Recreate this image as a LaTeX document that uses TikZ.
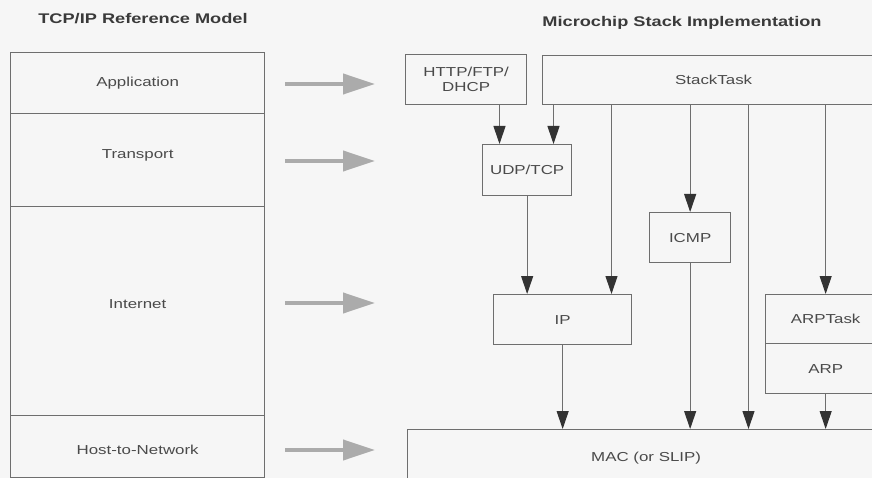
\documentclass[tikz,border=0pt]{standalone}
\usepackage{fontspec}
\setmainfont{Liberation Sans}[FakeStretch=1.3]
\usetikzlibrary{arrows.meta}
\definecolor{bg}{HTML}{F6F6F6}
\definecolor{ln}{HTML}{6E6E6E}
\definecolor{tx}{HTML}{4A4A4A}
\definecolor{hd}{HTML}{333333}
\definecolor{big}{HTML}{ABABAB}
\definecolor{ttl}{HTML}{3A3A3A}
\begin{document}
\begin{tikzpicture}[x=1pt,y=-1pt,
  box/.style={draw=ln, line width=1.3pt, rectangle, inner sep=0pt, anchor=north west,
    text=tx, font=\fontsize{13}{15}\selectfont, align=center},
  ttlnode/.style={text=ttl, font=\fontsize{14}{16}\selectfont\bfseries, inner sep=0pt},
  arr/.style={draw=ln, line width=1.1pt, -{Triangle[length=18pt,width=12pt,color=hd]}},
  bigarr/.style={draw=big, line width=4pt, -{Triangle[length=32pt,width=20pt,color=big]}}
]
\clip (0,0) rectangle (872,478);
\fill[bg] (0,0) rectangle (872,478);

% titles
\node[ttlnode] (t1) at (143,19) {TCP/IP Reference Model};
\node[ttlnode] (t2) at (682,23) {Microchip Stack Implementation};

% left column
\node[box, minimum width=254pt, minimum height=61pt] (app) at (10,52) {Application};
\node[box, minimum width=254pt, minimum height=93pt, text depth=13pt] (trans) at (10,113) {Transport};
\node[box, minimum width=254pt, minimum height=209pt, text depth=15pt] (inet) at (10,206) {Internet};
\node[box, minimum width=254pt, minimum height=62pt, text height=15pt] (host) at (10,415) {Host-to-Network};

% gray arrows
\coordinate (g1s) at (285,84);  \coordinate (g1e) at (375,84);
\coordinate (g2s) at (285,161); \coordinate (g2e) at (375,161);
\coordinate (g3s) at (285,303); \coordinate (g3e) at (375,303);
\coordinate (g4s) at (285,450); \coordinate (g4e) at (375,450);
\draw[bigarr] (g1s) -- (g1e);
\draw[bigarr] (g2s) -- (g2e);
\draw[bigarr] (g3s) -- (g3e);
\draw[bigarr] (g4s) -- (g4e);

% right column
\node[box, minimum width=121pt, minimum height=50pt] (http) at (405,54) {HTTP/FTP/\\DHCP};
\node[box, minimum width=342pt, minimum height=49pt] (stack) at (542,55) {StackTask};
\node[box, minimum width=89pt, minimum height=51pt] (udp) at (482,144) {UDP/TCP};
\node[box, minimum width=81pt, minimum height=50pt] (icmp) at (649,212) {ICMP};
\node[box, minimum width=138pt, minimum height=50pt] (ip) at (493,294) {IP};
\node[box, minimum width=120pt, minimum height=49pt] (arptask) at (765,294) {ARPTask};
\node[box, minimum width=120pt, minimum height=50pt] (arp) at (765,343) {ARP};
\node[box, minimum width=477pt, minimum height=56pt] (mac) at (407,429) {MAC (or SLIP)};

% x positions of connectors
\coordinate (xa) at (499.5,0);
\coordinate (xb) at (553.5,0);
\coordinate (xc) at (611.5,0);
\coordinate (xd) at (748.5,0);

\draw[arr] (http.south -| xa) -- (udp.north -| xa);
\draw[arr] (stack.south -| xb) -- (udp.north -| xb);
\draw[arr] (stack.south -| xc) -- (ip.north -| xc);
\draw[arr] (stack.south -| icmp.north) -- (icmp.north);
\draw[arr] (stack.south -| xd) -- (mac.north -| xd);
\draw[arr] (stack.south -| arptask.north) -- (arptask.north);
\draw[arr] (udp.south) -- (ip.north -| udp.south);
\draw[arr] (ip.south) -- (mac.north -| ip.south);
\draw[arr] (icmp.south) -- (mac.north -| icmp.south);
\draw[arr] (arp.south) -- (mac.north -| arp.south);
\end{tikzpicture}
\end{document}
